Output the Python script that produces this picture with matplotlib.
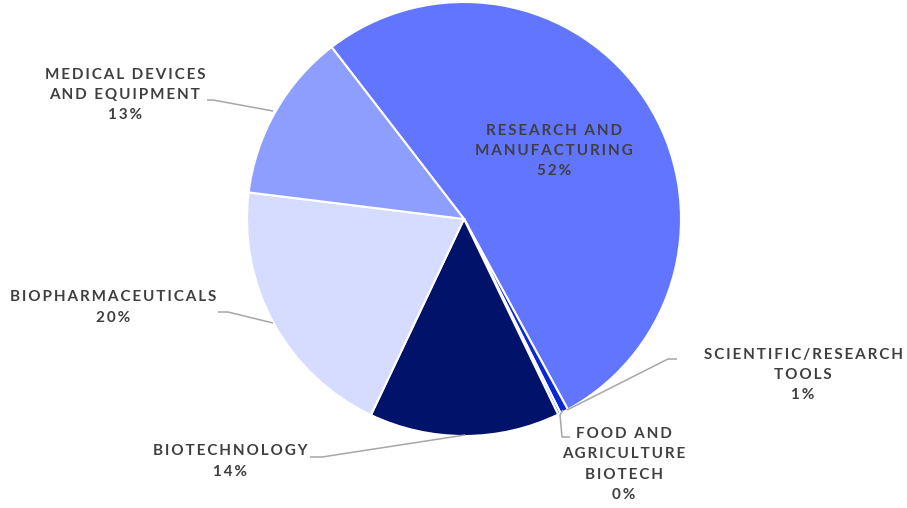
import matplotlib
matplotlib.use("Agg")
import matplotlib.pyplot as plt

# data (share of total, %)
categories = ["Research and Manufacturing", "Scientific/Research Tools",
              "Food and Agriculture Biotech", "Biotechnology",
              "Biopharmaceuticals", "Medical Devices and Equipment"]
shares = [52.5, 0.6, 0.2, 14.2, 19.9, 12.6]
colors = ["#6175FF", "#0A28D2", "#3355FF", "#00126A", "#D6DCFF", "#8E9EFF"]

# label text lines (category names split as in the chart)
label_lines = [
    ["RESEARCH AND", "MANUFACTURING"],
    ["SCIENTIFIC/RESEARCH", "TOOLS"],
    ["FOOD AND", "AGRICULTURE", "BIOTECH"],
    ["BIOTECHNOLOGY"],
    ["BIOPHARMACEUTICALS"],
    ["MEDICAL DEVICES", "AND EQUIPMENT"],
]

W, H = 907, 508
TXT = "#3F3F3F"
LEAD = "#A6A6A6"


def spaced(s):
    # fake letter spacing with thin spaces
    return "\u2009".join(s)


def py(y):
    # pixel row -> data y
    return H - y


fig = plt.figure(figsize=(W / 100, H / 100), dpi=100)
ax = fig.add_axes([0, 0, 1, 1])

ax.pie(shares, colors=colors, startangle=127.6, counterclock=False,
       center=(464, py(219)), radius=217,
       wedgeprops=dict(edgecolor="white", linewidth=1.5))
ax.set_xlim(0, W)
ax.set_ylim(0, H)
ax.set_aspect("equal")
ax.axis("off")

# label block centres (pixels)
label_pos = [(554, 151), (803, 375), (624, 464.5), (230, 461.5), (113, 307.5), (125, 95)]

for lines, val, (x, y) in zip(label_lines, shares, label_pos):
    txt = "\n".join([spaced(l) for l in lines] + [spaced(f"{round(val):.0f}%")])
    ax.text(x, py(y), txt, ha="center", va="center", ma="center",
            fontsize=11, fontweight="bold", color=TXT, linespacing=1.55,
            family=["Lato", "DejaVu Sans"])

# leader lines
leaders = [
    [(677, 359), (668, 359), (567, 410)],
    [(563, 410), (560, 415), (562, 437), (570, 437)],
    [(310, 457), (322, 457), (465, 435)],
    [(218, 312), (228, 312), (273, 323)],
    [(207, 100), (213, 100), (273, 111)],
]
for pts in leaders:
    xs = [p[0] for p in pts]
    ys = [py(p[1]) for p in pts]
    ax.plot(xs, ys, color=LEAD, lw=1.1, solid_capstyle="butt")

fig.savefig("out.png", dpi=100)
